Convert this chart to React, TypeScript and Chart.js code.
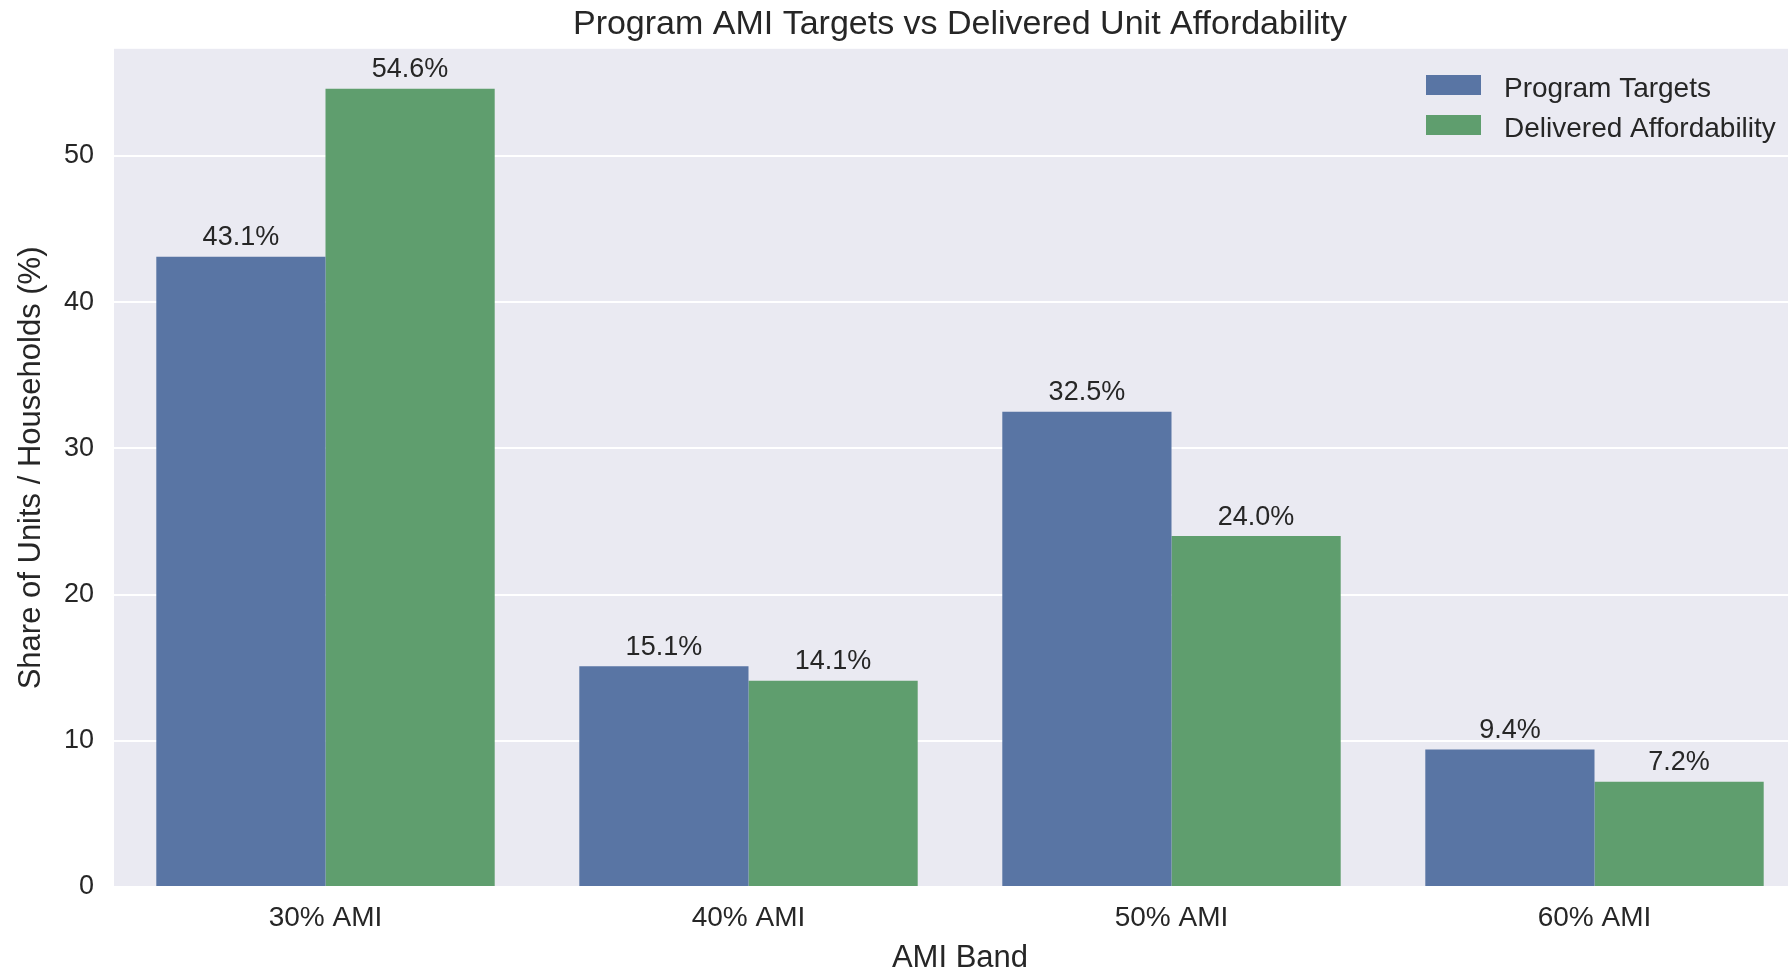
import React, { useEffect, useRef } from "react";
import { Chart, registerables } from "chart.js";

Chart.register(...registerables);

const categories = ["30% AMI", "40% AMI", "50% AMI", "60% AMI"];
const seriesLabels = ["Program Targets", "Delivered Affordability"];
const programTargets = [43.1, 15.1, 32.5, 9.4];
const deliveredAffordability = [54.6, 14.1, 24.0, 7.2];
const yTicks = [0, 10, 20, 30, 40, 50];
const yMax = 57.33;

const FONT = "'Liberation Sans', Arial, Helvetica, sans-serif";
const TEXT = "#262626";
const COLORS = ["#5975a4", "#5f9e6e"];

const bgPlugin = {
  id: "plotBg",
  beforeDraw(chart: any) {
    const { ctx, chartArea } = chart;
    ctx.save();
    ctx.fillStyle = "#eaeaf2";
    ctx.fillRect(chartArea.left, chartArea.top, chartArea.right - chartArea.left, chartArea.bottom - chartArea.top);
    ctx.restore();
  },
};

const barLabelPlugin = {
  id: "barLabels",
  afterDatasetsDraw(chart: any) {
    const { ctx } = chart;
    ctx.save();
    ctx.font = `27px ${FONT}`;
    ctx.fillStyle = TEXT;
    ctx.textAlign = "center";
    ctx.textBaseline = "middle";
    chart.data.datasets.forEach((ds: any, i: number) => {
      const meta = chart.getDatasetMeta(i);
      meta.data.forEach((bar: any, j: number) => {
        const v = ds.data[j] as number;
        ctx.fillText(v.toFixed(1) + "%", bar.x, bar.y - 19);
      });
    });
    ctx.restore();
  },
};

const legendPlugin = {
  id: "innerLegend",
  afterDraw(chart: any) {
    const { ctx } = chart;
    ctx.save();
    ctx.font = `28px ${FONT}`;
    ctx.textAlign = "left";
    ctx.textBaseline = "middle";
    chart.data.datasets.forEach((ds: any, i: number) => {
      const cy = 85 + i * 40;
      ctx.fillStyle = ds.backgroundColor;
      ctx.fillRect(1426, cy - 10, 55, 20);
      ctx.fillStyle = TEXT;
      ctx.fillText(ds.label, 1504, cy + 4);
    });
    ctx.restore();
  },
};

export default function App() {
  const ref = useRef<HTMLCanvasElement | null>(null);

  useEffect(() => {
    if (!ref.current) return;
    const chart = new Chart(ref.current, {
      type: "bar",
      data: {
        labels: categories,
        datasets: [
          {
            label: seriesLabels[0],
            data: programTargets,
            backgroundColor: COLORS[0],
            borderWidth: 0,
            categoryPercentage: 0.8,
            barPercentage: 1.0,
          },
          {
            label: seriesLabels[1],
            data: deliveredAffordability,
            backgroundColor: COLORS[1],
            borderWidth: 0,
            categoryPercentage: 0.8,
            barPercentage: 1.0,
          },
        ],
      },
      options: {
        responsive: false,
        animation: false,
        devicePixelRatio: 1,
        layout: { padding: { left: 0, right: 24, top: 0, bottom: 0 } },
        plugins: {
          legend: { display: false },
          tooltip: { enabled: false },
          title: {
            display: true,
            text: "Program AMI Targets vs Delivered Unit Affordability",
            color: TEXT,
            fullSize: false,
            font: { family: FONT, size: 34, weight: "normal", lineHeight: 1.2 },
            padding: { top: 4, bottom: 4 },
          },
        },
        scales: {
          x: {
            type: "category",
            grid: { display: false },
            border: { display: false },
            ticks: { color: TEXT, font: { family: FONT, size: 28 }, padding: 6 },
            title: {
              display: true,
              text: "AMI Band",
              color: TEXT,
              font: { family: FONT, size: 31, lineHeight: 1 },
              padding: { top: 0, bottom: -3 },
            },
            afterFit(scale: any) {
              scale.height = 84;
            },
          },
          y: {
            min: 0,
            max: yMax,
            grid: { color: "#ffffff", lineWidth: 2, drawTicks: false },
            border: { display: false },
            ticks: { color: TEXT, font: { family: FONT, size: 27 }, padding: 20 },
            afterBuildTicks(scale: any) {
              scale.ticks = yTicks.map((v) => ({ value: v }));
            },
            title: {
              display: true,
              text: "Share of Units / Households (%)",
              color: TEXT,
              font: { family: FONT, size: 31, lineHeight: 1.2 },
              padding: { top: 13, bottom: 0 },
            },
            afterFit(scale: any) {
              scale.width = 114;
            },
          },
        },
      },
      plugins: [bgPlugin, barLabelPlugin, legendPlugin],
    } as any);
    return () => chart.destroy();
  }, []);

  return (
    <div
      style={{
        position: "fixed",
        left: 0,
        top: 0,
        width: 1788,
        height: 971,
        overflow: "hidden",
        background: "#ffffff",
      }}
    >
      <canvas ref={ref} width={1830} height={971} style={{ width: 1830, height: 971, display: "block" }} />
    </div>
  );
}
